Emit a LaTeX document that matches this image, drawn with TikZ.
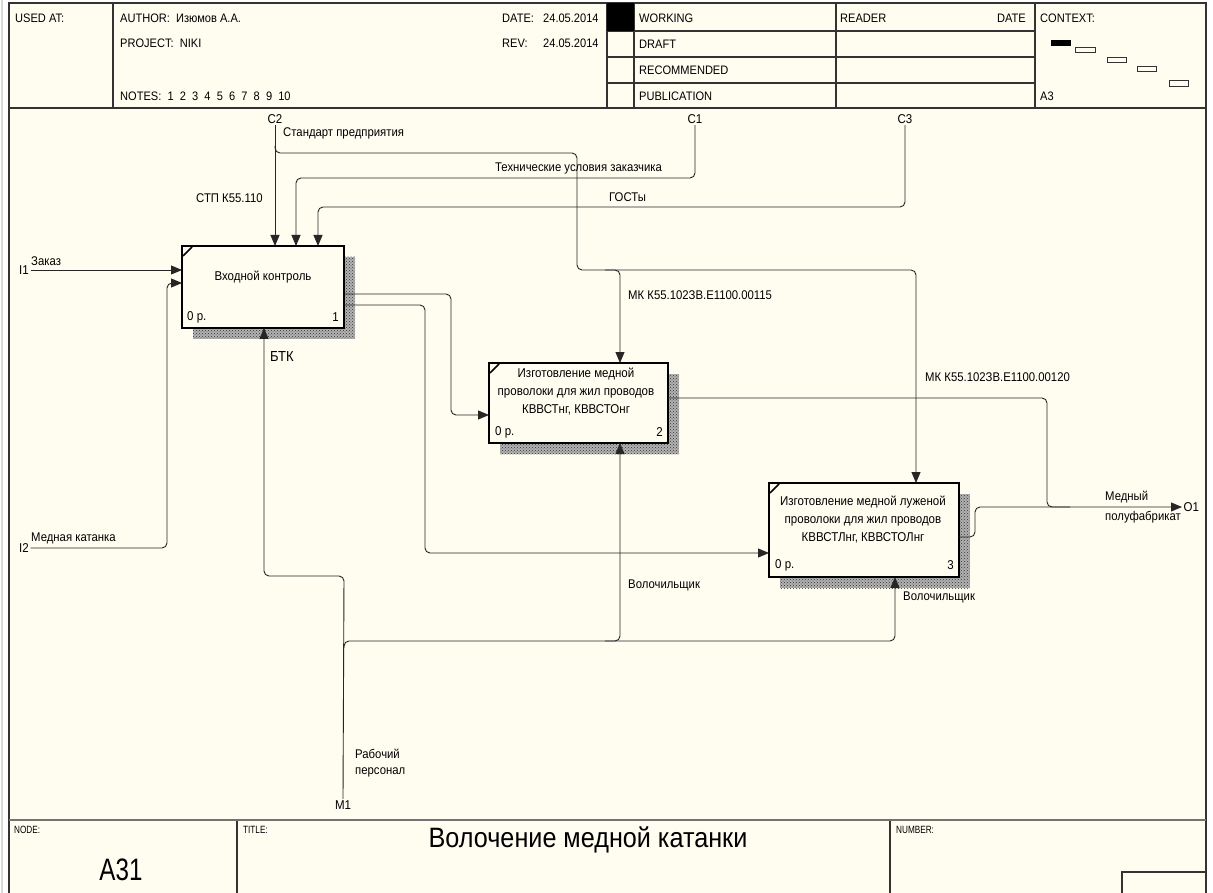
\documentclass[tikz,border=0pt]{standalone}
\usepackage{fontspec}
\setmainfont{Liberation Sans}[FakeStretch=0.9]
\newfontfamily\narrowerf{Liberation Sans}[FakeStretch=0.78]
\usetikzlibrary{arrows.meta,calc,patterns}
\definecolor{bg}{HTML}{FFFCF0}
\definecolor{ln}{HTML}{262626}
\definecolor{fr}{HTML}{333333}
\begin{document}
\begin{tikzpicture}[x=1pt,y=-1pt,
  lbl/.style={font=\fontsize{12.6}{14}\selectfont, inner sep=0pt, anchor=west, text=black},
  hdr/.style={font=\fontsize{12.3}{14}\selectfont, inner sep=0pt, anchor=west, text=black},
  small/.style={font=\narrowerf\fontsize{10.5}{12}\selectfont, inner sep=0pt, anchor=west, text=black},
  term/.style={font=\fontsize{12.8}{14}\selectfont, inner sep=1.5pt, text=black},
  boxtxt/.style={font=\fontsize{12.8}{18}\selectfont, inner sep=0pt, align=center, text=black},
  num/.style={font=\fontsize{12.8}{14}\selectfont, inner sep=0pt, anchor=west, text=black},
  conn/.style={draw=ln, line width=0.9pt, rounded corners=5pt},
  arr/.style={conn, -{Triangle[length=11pt,width=9pt]}},
  box/.style={draw=black, line width=2.8pt, fill=bg, inner sep=0pt, outer sep=0pt},
  shadowfill/.style={fill=black!30, postaction={pattern=crosshatch dots, pattern color=black!80}},
  corner/.style={line width=1.6pt, draw=black},
  frame/.style={draw=fr, line width=1.1pt},
]
\useasboundingbox (0,0) rectangle (1213,893);
\fill[white] (0,0) rectangle (1213,893);
\fill[bg] (9,3) rectangle (1206,893);
\draw[black!15, line width=2pt] (2,0) -- (2,893);
% outer frame
\draw[frame, line width=1.5pt] (9,893) -- (9,3) -- (1206,3) -- (1206,893);
% header
\draw[frame] (9,108) -- (1206,108);
\draw[frame] (113,3) -- (113,108);
\draw[frame] (607,3) -- (607,108);
\draw[frame] (634,3) -- (634,108);
\draw[frame] (836,3) -- (836,108);
\draw[frame] (1035,3) -- (1035,108);
\draw[frame] (607,31) -- (1035,31);
\draw[frame] (607,57) -- (1035,57);
\draw[frame] (607,83) -- (1035,83);
\fill[black] (607,3) rectangle (634,31);
\node[hdr] (usedat) at (15,18) {USED AT:};
\node[hdr] (author) at (120,18) {AUTHOR:\ \ Изюмов А.А.};
\node[hdr] (project) at (120,43) {PROJECT:\ \ NIKI};
\node[hdr] (notes) at (120,96) {NOTES:\ \ 1\ \ 2\ \ 3\ \ 4\ \ 5\ \ 6\ \ 7\ \ 8\ \ 9\ \ 10};
\node[hdr] (datel) at (502,18) {DATE:};
\node[hdr] (datev) at (543,18) {24.05.2014};
\node[hdr] (revl) at (502,43) {REV:};
\node[hdr] (revv) at (543,43) {24.05.2014};
\node[hdr] (working) at (639,18) {WORKING};
\node[hdr] (draft) at (639,44) {DRAFT};
\node[hdr] (recom) at (639,70) {RECOMMENDED};
\node[hdr] (publ) at (639,96) {PUBLICATION};
\node[hdr] (reader) at (840,18) {READER};
\node[hdr, anchor=east] (rdate) at (1026,18) {DATE};
\node[hdr] (context) at (1040,18) {CONTEXT:};
\node[hdr] (a3) at (1040,96) {A3};
\fill[black] (1051,40) rectangle (1071,46);
\draw[black!80, line width=0.8pt] (1075,47) rectangle (1095,52);
\draw[black!80, line width=0.8pt] (1107,57) rectangle (1126,62);
\draw[black!80, line width=0.8pt] (1137,66) rectangle (1156,71);
\draw[black!80, line width=0.8pt] (1169,80) rectangle (1188,86);
% footer
\draw[black!55, line width=2.5pt] (9,820) -- (1206,820);
\draw[frame] (237,821) -- (237,893);
\draw[frame] (890,821) -- (890,893);
\draw[frame] (1122,893) -- (1122,872) -- (1206,872);
\node[small] (nodel) at (14,830) {NODE:};
\node[small] (titlel) at (243,830) {TITLE:};
\node[small] (numl) at (896,830) {NUMBER:};
\node[font=\narrowerf\fontsize{31}{33}\selectfont, inner sep=0pt, text=black] (a31) at (121,870) {A31};
\node[font=\fontsize{28}{30}\selectfont, inner sep=0pt, text=black] (title) at (588,840) {Волочение медной катанки};

% helper coordinates
\coordinate (x264) at (264,0);
\coordinate (x296) at (296,0);
\coordinate (x318) at (318,0);
\coordinate (x620) at (620,0);
\coordinate (x895) at (895,0);
\coordinate (x916) at (916,0);
\coordinate (y283) at (0,283);
\coordinate (y294) at (0,294);
\coordinate (y305) at (0,305);
\coordinate (y398) at (0,398);
\coordinate (y415) at (0,415);
\coordinate (y537) at (0,537);
\coordinate (y553) at (0,553);

% shadows
\fill[shadowfill] (193,257) rectangle (355,339);
\fill[shadowfill] (500,374) rectangle (679,454);
\fill[shadowfill] (780,494) rectangle (970,588);
% boxes
\node[box, minimum width=162pt, minimum height=82pt] (b1) at (263,287) {};
\node[box, minimum width=179pt, minimum height=80pt] (b2) at (578.5,403) {};
\node[box, minimum width=190pt, minimum height=94pt] (b3) at (864,530) {};
\draw[corner] ($(b1.north west)+(1,10)$) -- ($(b1.north west)+(10,1)$);
\draw[corner] ($(b2.north west)+(1,10)$) -- ($(b2.north west)+(10,1)$);
\draw[corner] ($(b3.north west)+(1,10)$) -- ($(b3.north west)+(10,1)$);
\node[boxtxt] (b1t) at (263,277) {Входной контроль};
\node[boxtxt] (b2t) at (576,392) {Изготовление медной\\проволоки для жил проводов\\КВВСТнг, КВВСТОнг};
\node[boxtxt] (b3t) at (863,520) {Изготовление медной луженой\\проволоки для жил проводов\\КВВСТЛнг, КВВСТОЛнг};
\node[num] (b1n) at (187,317) {0 р.};
\node[num, anchor=east] (b1k) at (339,317) {1};
\node[num] (b2n) at (495,432) {0 р.};
\node[num, anchor=east] (b2k) at (663,432) {2};
\node[num] (b3n) at (775,565) {0 р.};
\node[num, anchor=east] (b3k) at (954,565) {3};

% terminals
\node[term] (c2) at (275,119) {C2};
\node[term] (c1) at (695,119) {C1};
\node[term] (c3) at (905,119) {C3};
\node[term] (i1) at (24,270) {I1};
\node[term] (i2) at (24,548) {I2};
\node[term, anchor=west] (o1) at (1182,507) {O1};
\node[term] (m1) at (343,805) {M1};

% controls
\draw[arr] (c2.south) -- (b1.north -| c2.south);
\coordinate (c2j) at (275,146);
\draw[arr] (c2j) -- (275,153) -- (577,153) -- (577,270) -- (916,270) -- (b3.north -| x916);
\coordinate (c2k) at (605,270);
\draw[arr] (c2k) -- (620,270) -- (b2.north -| x620);
\draw[arr] (c1.south) -- (695,178) -- (296,178) -- (b1.north -| x296);
\draw[arr] (c3.south) -- (905,207) -- (318,207) -- (b1.north -| x318);
% inputs
\draw[arr] (i1.east) -- (b1.west |- i1.east);
\draw[arr] (i2.east) -- (167,548) -- (167,283) -- (b1.west |- y283);
% internal flows
\draw[arr] (b1.east |- y294) -- (451,294) -- (451,415) -- (b2.west |- y415);
\draw[arr] (b1.east |- y305) -- (425,305) -- (425,553) -- (b3.west |- y553);
% outputs
\draw[arr] (b2.east |- y398) -- (1047,398) -- (1047,507) -- (o1.west);
\coordinate (o1j) at (1070,507);
\draw[conn] (b3.east |- y537) -- (975,537) -- (975,507) -- (o1j);
% mechanisms
\draw[arr] (m1.north) -- (344,576) -- (264,576) -- (b1.south -| x264);
\coordinate (m1j) at (344,648);
\draw[arr] (m1j) -- (344,641) -- (895,641) -- (b3.south -| x895);
\coordinate (m2j) at (605,641);
\draw[arr] (m2j) -- (620,641) -- (b2.south -| x620);

% labels
\node[lbl] (lstd) at (283,133) {Стандарт предприятия};
\node[lbl] (ltu) at (495,168) {Технические условия заказчика};
\node[lbl] (lgost) at (609,197) {ГОСТы};
\node[lbl] (lstp) at (196,198) {СТП К55.110};
\node[lbl] (lmk1) at (628,295) {МК К55.102ЗВ.Е1100.00115};
\node[lbl] (lmk2) at (925,377) {МК К55.102ЗВ.Е1100.00120};
\node[lbl] (lzak) at (31,261) {Заказ};
\node[lbl] (lkat) at (31,538) {Медная катанка};
\node[lbl, font=\fontsize{14.5}{16}\selectfont] (lbtk) at (270,357) {БТК};
\node[lbl] (lvol1) at (628,585) {Волочильщик};
\node[lbl] (lvol2) at (903,597) {Волочильщик};
\node[lbl] (lrab) at (355,754) {Рабочий};
\node[lbl] (lper) at (355,772) {персонал};
\node[lbl] (lmed) at (1105,497) {Медный};
\node[lbl] (lpf) at (1105,517) {полуфабрикат};
\end{tikzpicture}
\end{document}
